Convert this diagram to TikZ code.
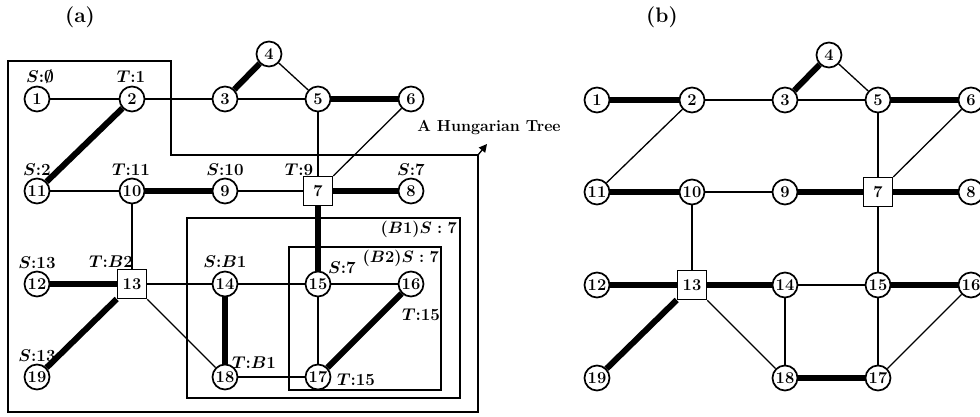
\documentclass[tikz,border=0pt]{standalone}
\usepackage{fix-cm}
\usepackage{fontspec}
\usetikzlibrary{arrows.meta}
\begin{document}
\begin{tikzpicture}[x=1pt,y=-1pt,
  vtx/.style={circle,draw,fill=white,line width=1.7pt,minimum size=25pt,inner sep=0pt,
    font=\fontsize{16.5}{16.5}\selectfont\bfseries},
  sqv/.style={rectangle,draw,fill=white,line width=1.6pt,minimum size=29pt,inner sep=0pt,
    font=\fontsize{16.5}{16.5}\selectfont\bfseries},
  thin/.style={line width=1.3pt},
  thick/.style={line width=6pt},
  lab/.style={inner sep=0pt,font=\fontsize{17}{17}\selectfont\bfseries\boldmath},
  blab/.style={inner sep=0pt,font=\fontsize{16.5}{16.5}\selectfont\bfseries\boldmath},
  frame/.style={line width=1.9pt},
  title/.style={inner sep=0pt,font=\fontsize{21}{21}\selectfont\bfseries}]
\useasboundingbox (0,0) rectangle (980,416);

% panel titles
\node[title] (ta) at (80,17) {(a)};
\node[title] (tb) at (662,17) {(b)};

% vertices of both panels; panel (b) is shifted right
\foreach \p/\dx/\dy in {a/0/0,b/560/1}{
  \begin{scope}[shift={(\dx,\dy)}]
    \node[vtx] (\p1) at (37,99) {1};
    \node[vtx] (\p2) at (132,99) {2};
    \node[vtx] (\p3) at (225,99) {3};
    \node[vtx] (\p4) at (269,54) {4};
    \node[vtx] (\p5) at (318,99) {5};
    \node[vtx] (\p6) at (411,99) {6};
    \node[vtx] (\p11) at (37,191) {11};
    \node[vtx] (\p10) at (132,191) {10};
    \node[vtx] (\p9) at (225,191) {9};
    \node[sqv] (\p7) at (318,191) {7};
    \node[vtx] (\p8) at (411,191) {8};
    \node[vtx] (\p12) at (37,284) {12};
    \node[sqv] (\p13) at (132,284) {13};
    \node[vtx] (\p14) at (225,284) {14};
    \node[vtx] (\p15) at (318,284) {15};
    \node[vtx] (\p16) at (411,284) {16};
    \node[vtx] (\p19) at (37,377) {19};
    \node[vtx] (\p18) at (225,377) {18};
    \node[vtx] (\p17) at (318,377) {17};
  \end{scope}
}

% panel (a): edges
\foreach \u/\v in {1/2,2/3,4/5,3/5,5/7,6/7,11/10,9/7,10/13,13/14,13/18,14/15,15/16,15/17,18/17}
  \draw[thin] (a\u) -- (a\v);
\foreach \u/\v in {3/4,5/6,2/11,10/9,7/8,7/15,12/13,13/19,14/18,16/17}
  \draw[thick] (a\u) -- (a\v);

% panel (b): edges
\foreach \u/\v in {2/3,4/5,3/5,5/7,6/7,2/11,10/9,10/13,7/15,13/18,14/15,14/18,15/17,16/17}
  \draw[thin] (b\u) -- (b\v);
\foreach \u/\v in {1/2,3/4,5/6,11/10,9/7,7/8,12/13,13/14,13/19,15/16,18/17}
  \draw[thick] (b\u) -- (b\v);

% Hungarian tree boundary and its label
\draw[frame] (8,61) -- (171,61) -- (171,155) -- (478,155) -- (478,412) -- (8,412) -- cycle;
\coordinate (hc) at (478,155);
\coordinate (ht) at (487,144);
\draw[line width=1.3pt,-{Triangle[length=8pt,width=8pt]}] (hc) -- (ht);
\node[inner sep=0pt,font=\fontsize{16}{16}\selectfont\bfseries] (hung) at (489,128) {A Hungarian Tree};

% blossoms
\draw[frame] (187,218) rectangle (460,398);
\draw[frame] (289,247) rectangle (441,390);
\node[blab,anchor=east] (bl1) at (457,229) {$(B1)S:7$};
\node[blab,anchor=east] (bl2) at (439,258) {$(B2)S:7$};

% labels of panel (a)
\node[lab] (l1) at (40,77) {$S$:$\emptyset$};
\node[lab] (l2) at (131,77) {$T$:1};
\node[lab] (l11) at (37,170) {$S$:2};
\node[lab] (l10) at (131,170) {$T$:11};
\node[lab] (l9) at (225,170) {$S$:10};
\node[lab] (l7) at (299,170) {$T$:9};
\node[lab] (l8) at (411,170) {$S$:7};
\node[lab] (l12) at (37,263) {$S$:13};
\node[lab] (l13) at (111,262) {$T$:$B$2};
\node[lab] (l14) at (225,262) {$S$:$B$1};
\node[lab] (l19) at (37,356) {$S$:13};
\node[lab] (l18) at (254,363) {$T$:$B$1};
\node[lab] (l15) at (342,268) {$S$:7};
\node[lab] (l16) at (421,315) {$T$:15};
\node[lab] (l17) at (356,380) {$T$:15};
\end{tikzpicture}
\end{document}
